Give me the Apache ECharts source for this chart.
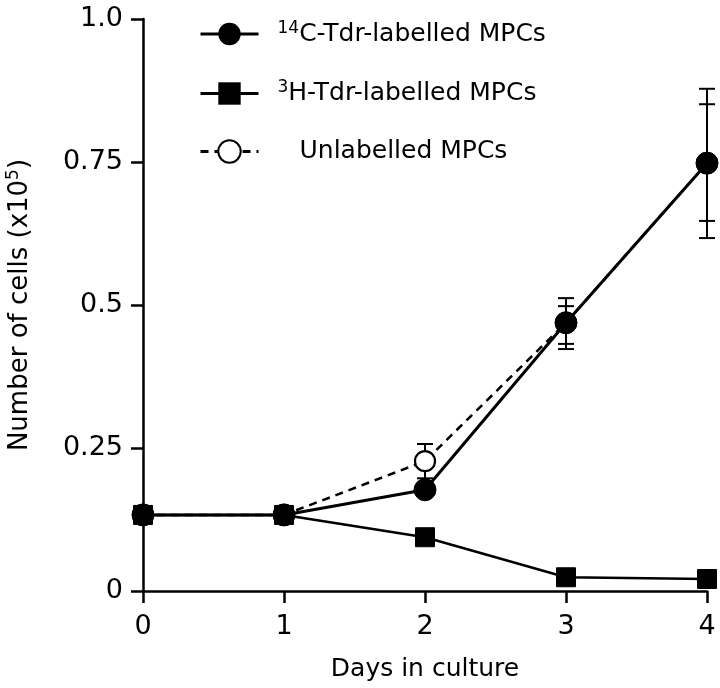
<!DOCTYPE html>
<html>
<head>
<meta charset="utf-8">
<script src="https://cdn.jsdelivr.net/npm/echarts@6/dist/echarts.min.js"></script>
<style>html,body{margin:0;padding:0;background:#fff;}#c{width:720px;height:688px;}</style>
</head>
<body>
<div id="c"></div>
<script>
// ---- data ----
const days = [0, 1, 2, 3, 4];
const c14Values = [0.133, 0.133, 0.177, 0.469, 0.748];
const h3Values = [0.133, 0.133, 0.094, 0.024, 0.021];
const unlabValues = [0.133, 0.133, 0.227, 0.469, 0.748];
const c14ErrLow = [null, null, null, 0.423, 0.617];
const c14ErrHigh = [null, null, null, 0.512, 0.878];
const unlabErrLow = [null, null, 0.197, 0.432, 0.647];
const unlabErrHigh = [null, null, 0.257, 0.498, 0.851];
const yTicks = [0, 0.25, 0.5, 0.75, 1.0];
const yTickLabels = ['0', '0.25', '0.5', '0.75', '1.0'];
const xTickLabels = ['0', '1', '2', '3', '4'];
const seriesNames = ['14C-Tdr-labelled MPCs', '3H-Tdr-labelled MPCs', 'Unlabelled MPCs'];

const FONT = 'DejaVu Sans';
const pts = vals => days.map((d, i) => [d, vals[i]]);
const errRows = (lo, hi) => days.map((d, i) => [d, lo[i], hi[i]]).filter(r => r[1] != null);

function renderErr(params, api) {
  const x = api.value(0), lo = api.value(1), hi = api.value(2);
  const a = api.coord([x, lo]), b = api.coord([x, hi]);
  const w = 8, st = {stroke: '#000', lineWidth: 2};
  return {type: 'group', children: [
    {type: 'line', shape: {x1: a[0], y1: a[1], x2: b[0], y2: b[1]}, style: st},
    {type: 'line', shape: {x1: a[0] - w, y1: a[1], x2: a[0] + w, y2: a[1]}, style: st},
    {type: 'line', shape: {x1: b[0] - w, y1: b[1], x2: b[0] + w, y2: b[1]}, style: st}
  ]};
}

const chart = echarts.init(document.getElementById('c'), null, {renderer: 'canvas'});
chart.setOption({
  backgroundColor: '#fff',
  animation: false,
  textStyle: {fontFamily: FONT, color: '#000'},
  grid: {left: 143, right: 13, top: 19, bottom: 97, containLabel: false, outerBoundsMode: 'none'},
  legend: {
    orient: 'vertical', left: 194, top: 15,
    itemWidth: 58, itemHeight: 28, itemGap: 33,
    lineStyle: {width: 3},
    data: [
      {name: seriesNames[0]},
      {name: seriesNames[1]},
      {name: seriesNames[2], textStyle: {padding: [0, 0, 0, 36]}}
    ],
    formatter: function (name) {
      if (name === seriesNames[0]) return '{sup|14}{t|C-Tdr-labelled MPCs}';
      if (name === seriesNames[1]) return '{sup|3}{t|H-Tdr-labelled MPCs}';
      return '{t|' + name + '}';
    },
    textStyle: {
      fontFamily: FONT, fontSize: 25, color: '#000', padding: [0, 0, 0, 14],
      rich: {
        sup: {fontFamily: FONT, fontSize: 17, verticalAlign: 'top', lineHeight: 28, padding: [0, 0, 8, 0]},
        t: {fontFamily: FONT, fontSize: 25, lineHeight: 28}
      }
    }
  },
  xAxis: {
    type: 'value', min: 0, max: 4, interval: 1,
    name: 'Days in culture', nameLocation: 'middle', nameGap: 66,
    nameTextStyle: {fontFamily: FONT, fontSize: 25, color: '#000'},
    axisLine: {lineStyle: {color: '#000', width: 2.5}},
    axisTick: {length: 12, lineStyle: {color: '#000', width: 2.5}},
    axisLabel: {fontFamily: FONT, fontSize: 27, color: '#000', margin: 22,
      formatter: v => xTickLabels[days.indexOf(v)]},
    splitLine: {show: false}
  },
  yAxis: {
    type: 'value', min: 0, max: 1, interval: 0.25,
    name: '{t|Number of cells (x10}{sup|5}{t|)}', nameLocation: 'middle', nameGap: 108, nameRotate: 90,
    nameTextStyle: {fontFamily: FONT, fontSize: 26, color: '#000',
      rich: {
        t: {fontFamily: FONT, fontSize: 26, lineHeight: 30},
        sup: {fontFamily: FONT, fontSize: 17, verticalAlign: 'top', lineHeight: 30, padding: [0, 0, 9, 0]}
      }},
    axisLine: {show: true, lineStyle: {color: '#000', width: 2.5}},
    axisTick: {show: true, length: 12, lineStyle: {color: '#000', width: 2.5}},
    axisLabel: {fontFamily: FONT, fontSize: 27, color: '#000', margin: 20,
      formatter: v => yTickLabels[yTicks.indexOf(v)]},
    splitLine: {show: false}
  },
  series: [
    {
      name: 'errUnlab', type: 'custom', renderItem: renderErr, z: 1,
      data: errRows(unlabErrLow, unlabErrHigh), encode: {x: 0, y: [1, 2]}, silent: true
    },
    {
      name: 'errC14', type: 'custom', renderItem: renderErr, z: 1,
      data: errRows(c14ErrLow, c14ErrHigh), encode: {x: 0, y: [1, 2]}, silent: true
    },
    {
      name: seriesNames[1], type: 'line', data: pts(h3Values), z: 2,
      symbol: 'rect', symbolSize: 19,
      lineStyle: {color: '#000', width: 2.5},
      itemStyle: {color: '#000', borderColor: '#000'}
    },
    {
      name: seriesNames[2], type: 'line', data: pts(unlabValues), z: 3,
      symbol: 'circle', symbolSize: 20,
      lineStyle: {color: '#000', width: 2.5, type: [8, 6]},
      itemStyle: {color: '#fff', borderColor: '#000', borderWidth: 2.2}
    },
    {
      name: seriesNames[0], type: 'line', data: pts(c14Values), z: 4,
      symbol: 'circle', symbolSize: 22,
      lineStyle: {color: '#000', width: 3},
      itemStyle: {color: '#000', borderColor: '#000'}
    }
  ]
});
</script>
</body>
</html>
